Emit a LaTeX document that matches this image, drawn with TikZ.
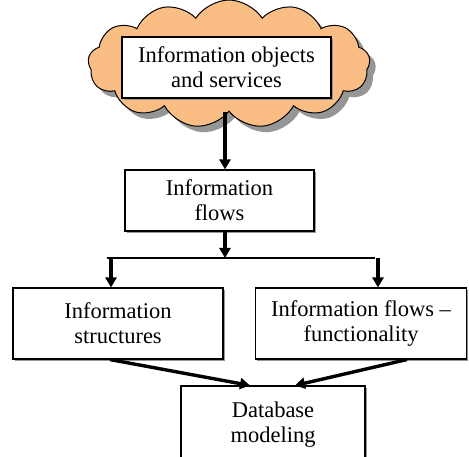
\documentclass[tikz,border=0pt]{standalone}
\usepackage{fontspec}
\setmainfont{Liberation Serif}
\usetikzlibrary{shapes.symbols,shadows,arrows.meta}
\definecolor{cloudfill}{RGB}{250,190,132}
\definecolor{shadowgray}{RGB}{150,150,150}
\begin{document}
\begin{tikzpicture}[x=1pt,y=-1pt,
  every node/.style={font=\fontsize{22.5}{25}\selectfont, align=center},
  box/.style={draw=black, line width=1.1pt, fill=white, inner sep=0pt,
    drop shadow={shadow xshift=1.6pt, shadow yshift=-1.6pt, fill=shadowgray, opacity=1}},
  arr/.style={line width=3.4pt, -{Triangle[length=10pt,width=11pt]}},
  link/.style={line width=1.5pt}]
\useasboundingbox (0,0) rectangle (469,457);

% cloud with its inner label box
\node[cloud, cloud puffs=13, cloud puff arc=115, aspect=2.3,
      draw=black, line width=1pt, fill=cloudfill,
      minimum width=282pt, minimum height=128pt,
      drop shadow={shadow xshift=6pt, shadow yshift=-6pt, fill=shadowgray, opacity=1}]
      (cloud) at (229,64) {};
\node[box, minimum width=209pt, minimum height=61pt] (obj) at (226.5,67.5)
  {Information objects\\and services};

% process boxes
\node[box, minimum width=189pt, minimum height=61pt] (flows) at (219.5,200.5)
  {Information\\flows};
\node[box, minimum width=210pt, minimum height=71pt] (struct) at (118,323.5)
  {Information\\structures};
\node[box, minimum width=211pt, minimum height=71pt] (func) at (361,323.5)
  {Information flows –\\functionality};
\node[box, minimum width=184pt, minimum height=78pt] (db) at (273,425)
  {Database\\modeling};

% junction points of the branching line
\coordinate (j) at (225,258);
\coordinate (jl) at (111,258);
\coordinate (jr) at (378,258);
\coordinate (ja) at (107,258);
\coordinate (jb) at (375,258);

% connectors
\draw[arr] (cloud.south -| j) -- (flows.north -| j);
\draw[arr] (flows.south -| j) -- (j);
\draw[link] (ja) -- (jb);
\draw[arr] (jl) -- (jl |- struct.north);
\draw[arr] (jr) -- (jr |- func.north);
\draw[arr] ([xshift=-8pt]struct.south) -- ([xshift=-23pt]db.north);
\draw[arr] ([xshift=46pt]func.south) -- ([xshift=22pt]db.north);
\end{tikzpicture}
\end{document}
